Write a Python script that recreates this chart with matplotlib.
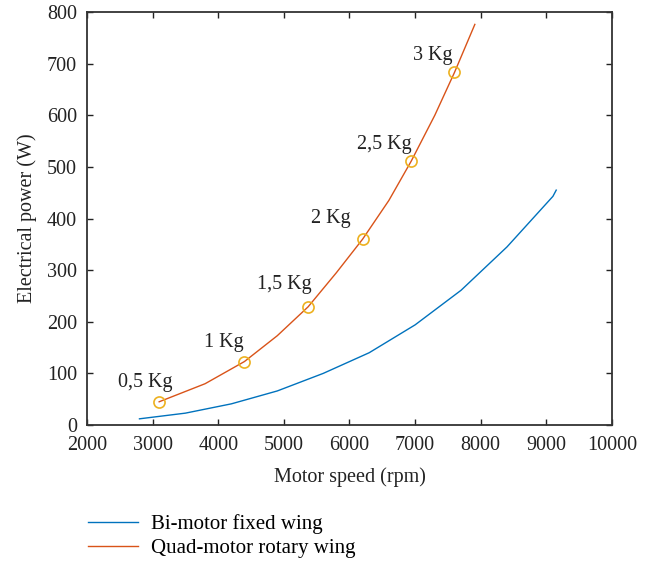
import matplotlib.pyplot as plt

plt.rcParams['font.family'] = ['Liberation Serif', 'DejaVu Serif']
plt.rcParams['font.size'] = 14.5

# Bi-motor fixed wing
bi_rpm = [2800, 3500, 4200, 4900, 5600, 6300, 7000, 7700, 8400, 9100, 9150]
bi_power = [12, 23, 41, 66, 100, 140, 194, 261, 345, 443, 455]

# Quad-motor rotary wing
quad_rpm = [3100, 3800, 4400, 4900, 5370, 5800, 6200, 6600, 6940, 7300, 7600, 7910]
quad_power = [45, 80, 123, 173, 229, 295, 360, 435, 511, 600, 683, 776]

# Payload points on the quad-motor curve
load_labels = ['0,5 Kg', '1 Kg', '1,5 Kg', '2 Kg', '2,5 Kg', '3 Kg']
load_rpm = [3100, 4400, 5370, 6200, 6940, 7600]
load_power = [45, 123, 229, 360, 511, 683]
label_offsets = [(-14, 19), (-21, 19), (-24, 22), (-32, 21), (-27, 17), (-22, 17)]

fig = plt.figure(figsize=(6.49, 5.61), dpi=100)
ax = fig.add_axes([0.134, 0.2424, 0.809, 0.7362])

ax.plot(bi_rpm, bi_power, color='#0072BD', lw=1.0, label='Bi-motor fixed wing')
ax.plot(quad_rpm, quad_power, color='#D95319', lw=1.0, label='Quad-motor rotary wing')
ax.plot(load_rpm, load_power, 'o', ms=8, mfc='none', mec='#EDB120', mew=1.2)

for txt, x, y, (dx, dy) in zip(load_labels, load_rpm, load_power, label_offsets):
    ax.annotate(txt, (x, y), xytext=(dx * 0.72, dy * 0.72), textcoords='offset points',
                ha='center', va='center', fontsize=14.5, color='#222222')

ax.set_xlim(2000, 10000)
ax.set_ylim(0, 800)
ax.set_xticks(range(2000, 10001, 1000))
ax.set_yticks(range(0, 801, 100))
ax.tick_params(direction='in', top=True, right=True, length=4, width=1.0,
               labelsize=14.5, colors='#222222')
ax.tick_params(axis='x', pad=8)
ax.tick_params(axis='y', pad=7)
for s in ax.spines.values():
    s.set_linewidth(1.3)
    s.set_color('#333333')

ax.set_xlabel('Motor speed (rpm)', fontsize=14.5, color='#222222', labelpad=9)
ax.set_ylabel('Electrical power (W)', fontsize=14.5, color='#222222', labelpad=7)

fig.legend(loc='center left', bbox_to_anchor=(0.1356, 0.044), frameon=False,
           fontsize=15, handlelength=2.4, handletextpad=0.6, labelspacing=0.2,
           borderpad=0, borderaxespad=0)

fig.savefig('out.png', dpi=100)
